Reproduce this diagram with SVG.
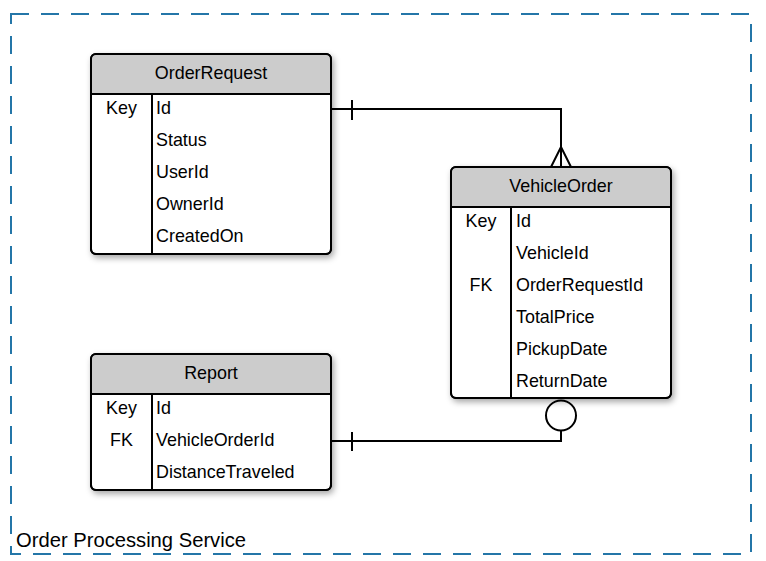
<svg xmlns="http://www.w3.org/2000/svg" width="766" height="561" viewBox="0 0 766 561">
<style>
text{font-family:"Liberation Sans",Arial,sans-serif;font-size:17.9px;fill:#000}
.hdr{text-anchor:middle}
.key{text-anchor:middle}
.box{fill:#fff;stroke:#000;stroke-width:2}
.head{fill:#cccccc}
.ln{stroke:#000;stroke-width:2;fill:none}
.con{stroke:#000;stroke-width:2;fill:none}
</style>
<defs>
<filter id="sh" x="-10%" y="-10%" width="125%" height="130%">
<feDropShadow dx="2" dy="3" stdDeviation="3" flood-color="#000" flood-opacity="0.35"/>
</filter>
</defs>
<rect x="11" y="14" width="740" height="540" fill="none" stroke="#2476a8" stroke-width="2" stroke-dasharray="18 12"/>
<text x="16" y="547" style="font-size:20.2px">Order Processing Service</text>

<g id="connectors">
<path class="con" d="M331,109 H561 V167"/>
<path class="con" d="M352,100 V120"/>
<path class="con" d="M551,167 L561,147 L571,167"/>
<path class="con" d="M331,441 H561 V431"/>
<path class="con" d="M352,432 V451"/>
<circle cx="561" cy="415.5" r="15" fill="#fff" stroke="#000" stroke-width="2"/>
</g>

<g id="OrderRequest">
<rect class="box" x="91" y="54" width="240" height="200" rx="5" filter="url(#sh)"/>
<path class="head" d="M96,55 H326 A4,4 0 0 1 330,59 V94 H92 V59 A4,4 0 0 1 96,55 Z"/>
<rect class="box" x="91" y="54" width="240" height="200" rx="5" style="fill:none"/>
<path class="ln" d="M91,94 H331 M152,94 V254"/>
<text class="hdr" x="211" y="79">OrderRequest</text>
<text class="key" x="121.5" y="114">Key</text>
<text x="156" y="114">Id</text>
<text x="156" y="146">Status</text>
<text x="156" y="178">UserId</text>
<text x="156" y="210">OwnerId</text>
<text x="156" y="242">CreatedOn</text>
</g>

<g id="VehicleOrder">
<rect class="box" x="451" y="167" width="220" height="231" rx="5" filter="url(#sh)"/>
<path class="head" d="M456,168 H666 A4,4 0 0 1 670,172 V207 H452 V172 A4,4 0 0 1 456,168 Z"/>
<rect class="box" x="451" y="167" width="220" height="231" rx="5" style="fill:none"/>
<path class="ln" d="M451,207 H671 M511,207 V398"/>
<text class="hdr" x="561" y="192">VehicleOrder</text>
<text class="key" x="481" y="227">Key</text>
<text class="key" x="481" y="291">FK</text>
<text x="516" y="227">Id</text>
<text x="516" y="259">VehicleId</text>
<text x="516" y="291">OrderRequestId</text>
<text x="516" y="323">TotalPrice</text>
<text x="516" y="355">PickupDate</text>
<text x="516" y="387">ReturnDate</text>
</g>

<g id="Report">
<rect class="box" x="91" y="354" width="240" height="136" rx="5" filter="url(#sh)"/>
<path class="head" d="M96,355 H326 A4,4 0 0 1 330,359 V394 H92 V359 A4,4 0 0 1 96,355 Z"/>
<rect class="box" x="91" y="354" width="240" height="136" rx="5" style="fill:none"/>
<path class="ln" d="M91,394 H331 M152,394 V490"/>
<text class="hdr" x="211" y="379">Report</text>
<text class="key" x="121.5" y="414">Key</text>
<text class="key" x="121.5" y="446">FK</text>
<text x="156" y="414">Id</text>
<text x="156" y="446">VehicleOrderId</text>
<text x="156" y="478">DistanceTraveled</text>
</g>
</svg>
